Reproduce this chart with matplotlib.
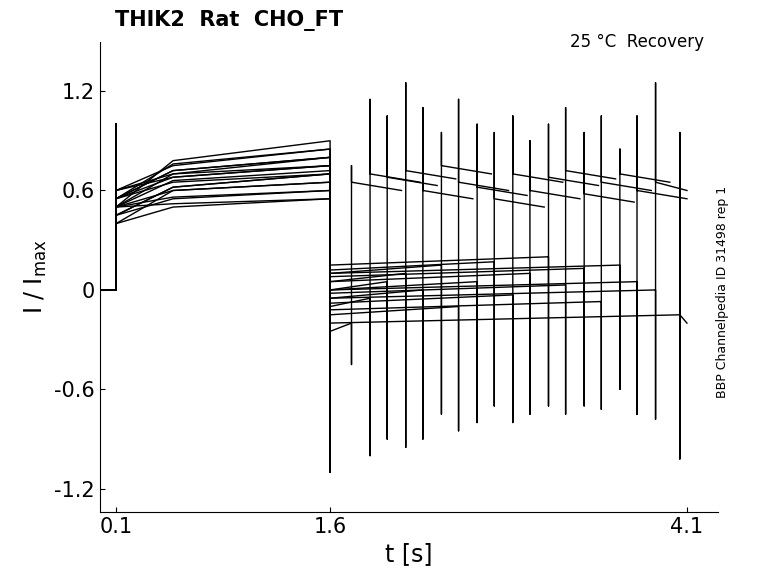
import numpy as np
import matplotlib.pyplot as plt

# recovery test pulse times per sweep (s)
test_times = [1.75, 1.88, 2.0, 2.13, 2.25, 2.38, 2.5, 2.63, 2.75, 2.88, 3.0, 3.13, 3.25, 3.38, 3.5, 3.63, 3.75, 3.88, 4.05]
dip_values = [-0.45, -1.0, -0.9, -0.95, -0.9, -0.75, -0.85, -0.8, -0.7, -0.8, -0.75, -0.7, -0.75, -0.7, -0.72, -0.6, -0.75, -0.78, -1.02]
peak_values = [0.75, 1.15, 1.05, 1.25, 1.1, 0.95, 1.15, 1.0, 0.95, 1.05, 0.9, 1.0, 1.1, 0.95, 1.05, 0.85, 1.05, 1.25, 0.95]
start_levels = [0.4, 0.45, 0.5, 0.55, 0.5, 0.6, 0.55, 0.45, 0.5, 0.6, 0.55, 0.5, 0.45, 0.55, 0.6, 0.5, 0.55, 0.4, 0.5]
mid_levels = [0.5, 0.62, 0.7, 0.68, 0.6, 0.75, 0.65, 0.55, 0.78, 0.7, 0.72, 0.52, 0.62, 0.76, 0.68, 0.56, 0.72, 0.6, 0.66]
end_levels = [0.55, 0.7, 0.8, 0.75, 0.65, 0.85, 0.7, 0.6, 0.9, 0.75, 0.8, 0.55, 0.7, 0.85, 0.75, 0.6, 0.8, 0.65, 0.72]
base_levels = [-0.25, -0.1, 0.0, 0.05, -0.05, 0.1, -0.15, 0.0, 0.12, -0.08, 0.05, 0.15, -0.02, 0.08, -0.12, 0.1, 0.0, -0.05, -0.2]
recov_levels = [0.65, 0.7, 0.68, 0.72, 0.6, 0.75, 0.65, 0.62, 0.55, 0.7, 0.6, 0.68, 0.72, 0.58, 0.65, 0.7, 0.6, 0.65, -0.15]

fig = plt.figure(figsize=(7.78, 5.83), dpi=100)
ax = fig.add_axes([0.1285, 0.122, 0.7943, 0.806])

for k, tk in enumerate(test_times):
    t_end = min(tk + 0.35, 4.1) if k < 16 else 4.1
    x = [0.0, 0.1, 0.1, 0.1, 0.5, 1.6, 1.6, 1.6, tk, tk, tk, tk, t_end]
    y = [0.0, 0.0, 1.0, start_levels[k], mid_levels[k], end_levels[k], -1.1, base_levels[k],
         base_levels[k] + 0.05, dip_values[k], peak_values[k], recov_levels[k], recov_levels[k] - 0.05]
    ax.plot(x, y, color='black', linewidth=1.0)

ax.set_xlim(-0.012, 4.317)
ax.set_ylim(-1.339, 1.496)
ax.set_xticks([0.1, 1.6, 4.1])
ax.set_xticklabels(['0.1', '1.6', '4.1'])
ax.set_yticks([-1.2, -0.6, 0, 0.6, 1.2])
ax.set_yticklabels(['-1.2', '-0.6', '0', '0.6', '1.2'])
ax.tick_params(labelsize=15, direction='in')
ax.spines['top'].set_visible(False)
ax.spines['right'].set_visible(False)
ax.set_xlabel('t [s]', fontsize=17)
ax.set_ylabel('I / I$_{\\mathrm{max}}$', fontsize=17)
fig.text(0.148, 0.955, 'THIK2  Rat  CHO_FT', fontsize=15, fontweight='bold')
fig.text(0.905, 0.92, '25 °C  Recovery', fontsize=12, ha='right')
fig.text(0.92, 0.5, 'BBP Channelpedia ID 31498 rep 1', fontsize=9, rotation=90, va='center')

fig.savefig('out.png', dpi=100)
